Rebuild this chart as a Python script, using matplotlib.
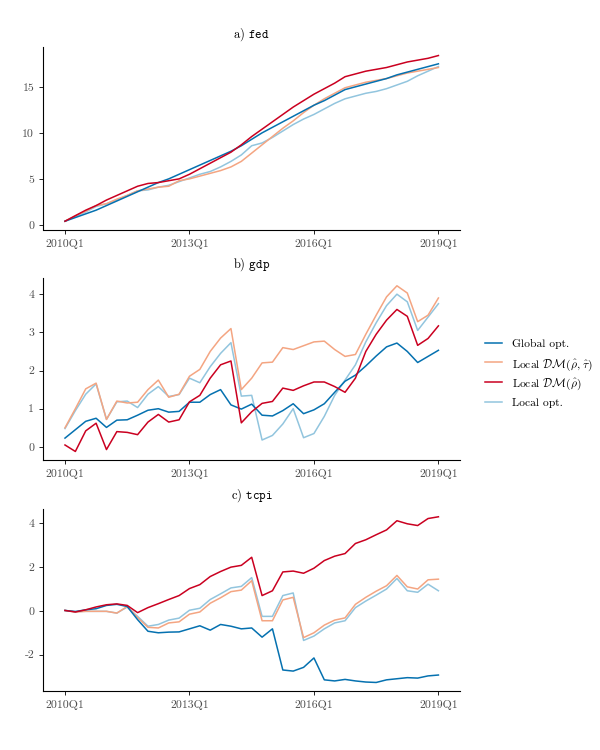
import matplotlib
matplotlib.use("Agg")
import matplotlib.pyplot as plt
from matplotlib.lines import Line2D

plt.rcParams['font.family'] = ['cmr10', 'DejaVu Serif']
plt.rcParams['mathtext.fontset'] = 'cm'
plt.rcParams['axes.unicode_minus'] = False
plt.rcParams['axes.formatter.use_mathtext'] = False

quarters = list(range(37))
tick_pos = [0, 12, 24, 36]
tick_labels = ['2010Q1', '2013Q1', '2016Q1', '2019Q1']

series_names = ['Global opt.',
                r'Local $\mathcal{DM}(\hat{\rho},\,\hat{\tau})$',
                r'Local $\mathcal{DM}(\hat{\rho})$',
                'Local opt.']
colors = ['#0571b0', '#f4a582', '#ca0020', '#92c5de']

# a) fed
fed_global = [0.4, 0.8, 1.2, 1.6, 2.1, 2.6, 3.1, 3.6, 4.1, 4.6, 5.0, 5.5, 6.0, 6.5, 7.0, 7.5, 8.0, 8.6, 9.3,
              10.0, 10.6, 11.2, 11.8, 12.4, 13.0, 13.5, 14.1, 14.7, 15.0, 15.3, 15.6, 15.9, 16.3, 16.6, 16.9, 17.2, 17.5]
fed_dm_rt = [0.4, 1.0, 1.5, 2.1, 2.3, 2.8, 3.2, 3.7, 3.9, 4.1, 4.2, 4.8, 5.0, 5.3, 5.6, 5.9, 6.3, 6.9, 7.8,
             8.7, 9.6, 10.5, 11.3, 12.2, 13.0, 13.7, 14.3, 14.9, 15.2, 15.5, 15.7, 15.9, 16.2, 16.5, 16.7, 16.9, 17.1]
fed_dm_r = [0.4, 1.0, 1.6, 2.1, 2.7, 3.2, 3.7, 4.2, 4.5, 4.6, 4.8, 5.0, 5.5, 6.1, 6.7, 7.3, 7.9, 8.7, 9.6,
            10.4, 11.2, 12.0, 12.8, 13.5, 14.2, 14.8, 15.4, 16.1, 16.4, 16.7, 16.9, 17.1, 17.4, 17.7, 17.9, 18.1, 18.4]
fed_local = [0.4, 0.9, 1.4, 2.0, 2.3, 2.7, 3.2, 3.7, 3.8, 4.1, 4.3, 4.7, 5.1, 5.5, 5.8, 6.3, 6.9, 7.6, 8.6,
             8.9, 9.5, 10.2, 10.9, 11.5, 12.0, 12.6, 13.2, 13.7, 14.0, 14.3, 14.5, 14.8, 15.2, 15.6, 16.2, 16.7, 17.2]

# b) gdp
gdp_global = [0.23, 0.45, 0.67, 0.75, 0.51, 0.7, 0.71, 0.83, 0.96, 1.0, 0.91, 0.93, 1.17, 1.17, 1.37, 1.5, 1.1,
              0.99, 1.12, 0.83, 0.81, 0.95, 1.13, 0.87, 0.97, 1.13, 1.43, 1.72, 1.88, 2.12, 2.38, 2.62, 2.72,
              2.5, 2.21, 2.37, 2.53]
gdp_dm_rt = [0.5, 1.0, 1.52, 1.67, 0.72, 1.2, 1.15, 1.17, 1.5, 1.75, 1.3, 1.38, 1.85, 2.03, 2.5, 2.85, 3.1,
             1.5, 1.8, 2.2, 2.22, 2.6, 2.55, 2.65, 2.75, 2.77, 2.55, 2.37, 2.42, 2.95, 3.45, 3.93, 4.22,
             4.03, 3.28, 3.45, 3.9]
gdp_dm_r = [0.05, -0.12, 0.42, 0.62, -0.07, 0.4, 0.38, 0.32, 0.65, 0.85, 0.65, 0.71, 1.18, 1.35, 1.8, 2.15,
            2.25, 0.63, 0.92, 1.14, 1.19, 1.54, 1.48, 1.6, 1.7, 1.7, 1.58, 1.43, 1.8, 2.5, 2.95, 3.32, 3.6,
            3.42, 2.66, 2.84, 3.17]
gdp_local = [0.48, 0.95, 1.38, 1.65, 0.72, 1.18, 1.2, 1.03, 1.38, 1.58, 1.32, 1.37, 1.8, 1.68, 2.1, 2.45,
             2.73, 1.33, 1.35, 0.18, 0.3, 0.6, 1.0, 0.24, 0.35, 0.8, 1.35, 1.75, 2.15, 2.75, 3.25, 3.7, 4.0,
             3.8, 3.05, 3.4, 3.75]

# c) tcpi
tcpi_global = [0.02, -0.03, 0.05, 0.1, 0.25, 0.3, 0.2, -0.4, -0.93, -1.0, -0.97, -0.96, -0.82, -0.68, -0.88,
               -0.62, -0.7, -0.82, -0.78, -1.2, -0.82, -2.7, -2.75, -2.58, -2.15, -3.15, -3.2, -3.13, -3.2,
               -3.25, -3.27, -3.15, -3.1, -3.05, -3.07, -2.97, -2.93]
tcpi_dm_rt = [0.02, -0.05, -0.02, -0.02, -0.02, -0.1, 0.2, -0.3, -0.75, -0.78, -0.55, -0.5, -0.15, -0.05,
              0.35, 0.6, 0.88, 0.95, 1.38, -0.45, -0.45, 0.5, 0.62, -1.22, -1.0, -0.65, -0.42, -0.32, 0.3,
              0.62, 0.9, 1.15, 1.62, 1.1, 1.0, 1.42, 1.45]
tcpi_dm_r = [0.02, -0.05, 0.05, 0.18, 0.28, 0.32, 0.25, -0.08, 0.15, 0.33, 0.52, 0.7, 1.02, 1.2, 1.57, 1.8,
             2.0, 2.08, 2.45, 0.7, 0.92, 1.78, 1.82, 1.72, 1.95, 2.3, 2.5, 2.62, 3.08, 3.25, 3.48, 3.7, 4.12,
             3.98, 3.9, 4.22, 4.3]
tcpi_local = [0.02, -0.03, -0.02, -0.02, -0.02, -0.1, 0.18, -0.25, -0.7, -0.62, -0.42, -0.33, 0.03, 0.12,
              0.52, 0.78, 1.05, 1.12, 1.52, -0.25, -0.25, 0.7, 0.82, -1.35, -1.15, -0.82, -0.55, -0.45, 0.15,
              0.45, 0.72, 1.0, 1.48, 0.92, 0.85, 1.22, 0.92]

panels = [
    (r'a) $\mathtt{fed}$', [fed_global, fed_dm_rt, fed_dm_r, fed_local], [0, 5, 10, 15]),
    (r'b) $\mathtt{gdp}$', [gdp_global, gdp_dm_rt, gdp_dm_r, gdp_local], [0, 1, 2, 3, 4]),
    (r'c) $\mathtt{tcpi}$', [tcpi_global, tcpi_dm_rt, tcpi_dm_r, tcpi_local], [-2, 0, 2, 4]),
]
bottoms = [0.694, 0.387, 0.079]

fig = plt.figure(figsize=(6, 7.5), dpi=100)
for (title, data, yticks), b in zip(panels, bottoms):
    ax = fig.add_axes([0.072, b, 0.695, 0.243])
    # red drawn last, as in the reference
    for k in [3, 1, 0, 2]:
        ax.plot(quarters, data[k], color=colors[k], lw=1.1)
    ax.set_xlim(-2.1, 38.1)
    ax.margins(y=0.05)
    ax.set_xticks(tick_pos)
    ax.set_xticklabels(tick_labels)
    ax.set_yticks(yticks)
    ax.set_yticklabels([str(t) for t in yticks])
    ax.set_title(title, fontsize=9, pad=7)
    for side in ['top', 'right']:
        ax.spines[side].set_visible(False)
    for side in ['left', 'bottom']:
        ax.spines[side].set_linewidth(0.8)
    ax.tick_params(labelsize=8.5, colors='black', labelcolor='#4d4d4d', length=3, width=0.6)

# legend with evenly spaced rows, like ggplot's
row_y = 0.543
for name, c in zip(series_names, colors):
    fig.add_artist(Line2D([0.808, 0.837], [row_y, row_y], color=c, lw=1.1,
                          transform=fig.transFigure))
    fig.text(0.853, row_y, name, fontsize=8.3, va='center_baseline', ha='left')
    row_y -= 0.0262

fig.savefig('out.png', dpi=100)
